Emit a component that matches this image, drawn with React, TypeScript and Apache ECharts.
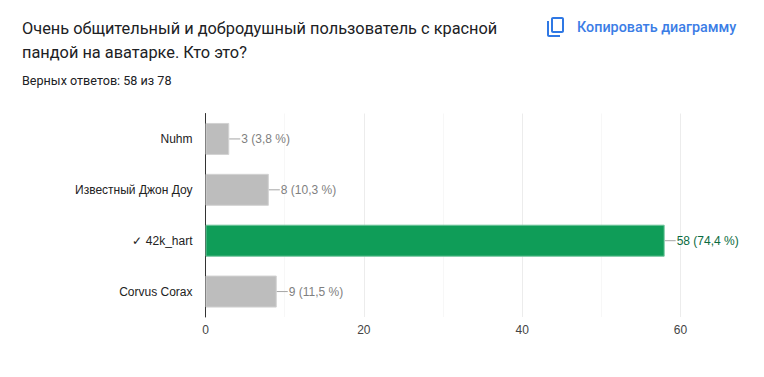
import React, { useEffect, useRef } from "react";
import * as echarts from "echarts";

const categories = ["Nuhm", "Известный Джон Доу", "✓ 42k_hart", "Corvus Corax"];
const counts = [3, 8, 58, 9];
const valueLabels = ["3 (3,8 %)", "8 (10,3 %)", "58 (74,4 %)", "9 (11,5 %)"];
const correctIndex = 2;
const titleLines = "Очень общительный и добродушный пользователь с красной\nпандой на аватарке. Кто это?";
const subtitle = "Верных ответов: 58 из 78";
const copyLabel = "Копировать диаграмму";

const solidCopy =
  "M18 2H9C7.9 2 7 2.9 7 4V16C7 17.1 7.9 18 9 18H18C19.1 18 20 17.1 20 16V4C20 2.9 19.1 2 18 2ZM18 16H9V4H18V16ZM3 6V20C3 21.1 3.9 22 5 22H16V20H5V6H3Z";

export default function App() {
  const ref = useRef<HTMLDivElement>(null);
  useEffect(() => {
    document.body.style.margin = "0";
    echarts.graphic.registerShape("copyicon", echarts.graphic.extendPath(solidCopy, {}) as any);
    const chart = echarts.init(ref.current!, undefined, { renderer: "svg" });
    chart.setOption({
      animation: false,
      backgroundColor: "#ffffff",
      grid: { left: 205.5, right: 83.5, top: 113.5, bottom: 60, containLabel: false },
      xAxis: {
        type: "value",
        min: 0,
        max: 60,
        interval: 20,
        minorTick: { show: false, splitNumber: 2 },
        minorSplitLine: { show: true, lineStyle: { color: "#f7f7f7", width: 1 } },
        splitLine: { show: true, lineStyle: { color: "#ececec", width: 1 } },
        axisLine: { show: false },
        axisTick: { show: false },
        axisLabel: { color: "#444444", fontFamily: "Liberation Sans", fontSize: 12, margin: 7 },
      },
      yAxis: {
        type: "category",
        inverse: true,
        data: categories,
        axisLine: { show: true, onZero: false, lineStyle: { color: "#333333", width: 1 } },
        axisTick: { show: false },
        axisLabel: { color: "#222222", fontFamily: "Liberation Sans", fontSize: 12, margin: 13 },
      },
      series: [
        {
          type: "bar",
          barWidth: 32,
          z: 1,
          data: counts.map((v, i) => ({
            value: v,
            itemStyle:
              i === correctIndex
                ? { color: "#0f9d58", borderColor: "#6fc49b", borderWidth: 1 }
                : { color: "#bdbdbd", borderColor: "#d2d2d2", borderWidth: 1 },
            label: {
              show: true,
              position: "right",
              distance: 0,
              formatter: `{l|}{${i === correctIndex ? "g" : "t"}|${valueLabels[i]}}`,
              rich: {
                l: { width: 11, height: 1, backgroundColor: "#a5a5a5" },
                t: { color: "#7f7f7f", fontFamily: "Liberation Sans", fontSize: 12, padding: [0, 0, 0, 1] },
                g: { color: "#0b6b40", fontFamily: "Liberation Sans", fontSize: 12, padding: [0, 0, 0, 1] },
              },
            },
          })),
        },
      ],
      graphic: [
        {
          type: "text",
          x: 22,
          y: 17,
          style: { text: titleLines, fill: "#202124", font: "16.35px Roboto", lineHeight: 23.5 },
        },
        {
          type: "text",
          x: 22,
          y: 74,
          style: { text: subtitle, fill: "#202124", font: "12.6px Roboto" },
        },
        {
          type: "copyicon",
          x: 544,
          y: 15,
          scaleX: 1,
          scaleY: 1,
          style: { fill: "#2f78e4" },
        },
        {
          type: "text",
          x: 577,
          y: 20,
          style: { text: copyLabel, fill: "#3b7de6", font: "500 14.35px Roboto" },
        },
      ],
    });
    return () => chart.dispose();
  }, []);
  return <div ref={ref} style={{ width: 764, height: 377 }} />;
}
